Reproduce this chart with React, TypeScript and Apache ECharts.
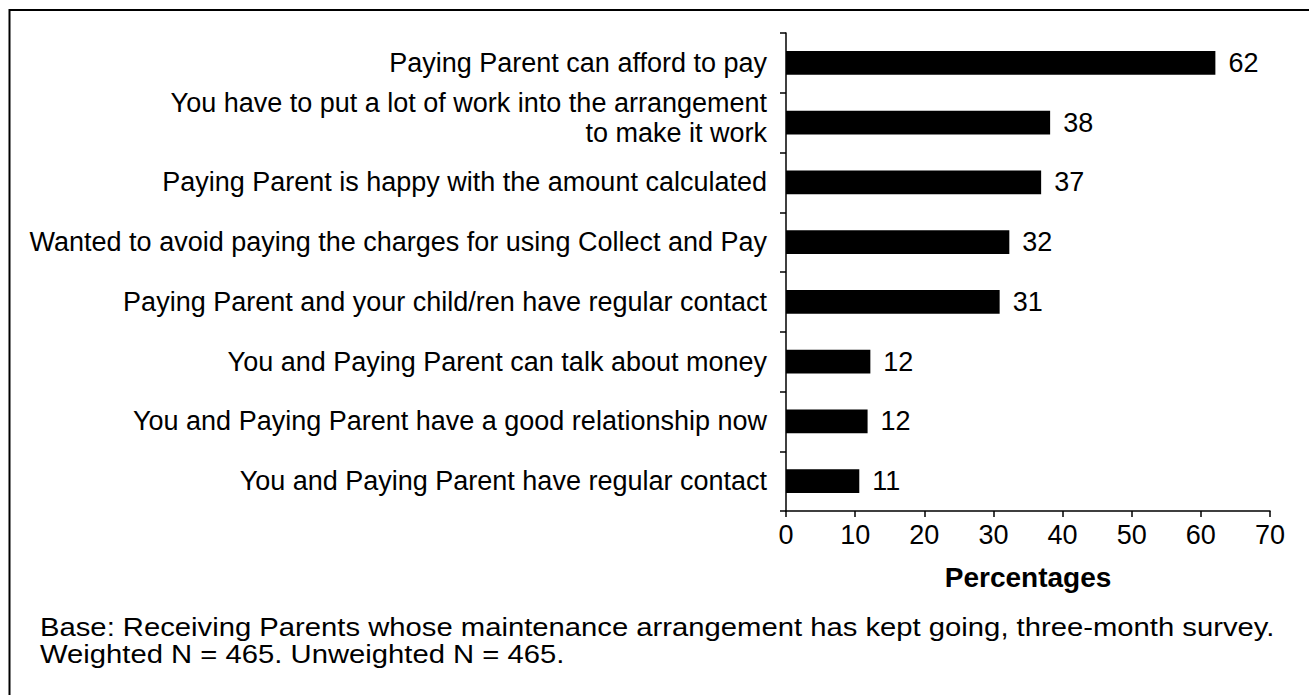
import React, { useEffect, useRef } from "react";
import * as echarts from "echarts";

const categories = [
  "Paying Parent can afford to pay",
  "You have to put a lot of work into the arrangement\nto make it work",
  "Paying Parent is happy with the amount calculated",
  "Wanted to avoid paying the charges for using Collect and Pay",
  "Paying Parent and your child/ren have regular contact",
  "You and Paying Parent can talk about money",
  "You and Paying Parent have a good relationship now",
  "You and Paying Parent have regular contact",
];
const values = [62.1, 38.2, 36.9, 32.3, 30.9, 12.2, 11.8, 10.6];
const xTicks = [0, 10, 20, 30, 40, 50, 60, 70];
const axisTitle = "Percentages";
const footnote =
  "Base: Receiving Parents whose maintenance arrangement has kept going, three-month survey.\nWeighted N = 465. Unweighted N = 465.";

const FONT = "'Liberation Sans', Arial, sans-serif";

export default function App() {
  const ref = useRef<HTMLDivElement>(null);
  useEffect(() => {
    if (!ref.current) return;
    const chart = echarts.init(ref.current, undefined, { renderer: "svg" });
    chart.setOption({
      animation: false,
      backgroundColor: "#ffffff",
      textStyle: { fontFamily: FONT, color: "#000" },
      grid: { left: 786, right: 39, top: 33, bottom: 184, containLabel: false },
      xAxis: {
        type: "value",
        min: xTicks[0],
        max: xTicks[xTicks.length - 1],
        interval: 10,
        axisLine: { show: true, lineStyle: { color: "#000", width: 1.5 } },
        axisTick: { show: true, length: 6, lineStyle: { color: "#000", width: 1.5 } },
        splitLine: { show: false },
        axisLabel: { fontSize: 27, color: "#000", margin: 10, fontFamily: FONT },
        name: axisTitle,
        nameLocation: "middle",
        nameGap: 52,
        nameTextStyle: { fontSize: 28, fontWeight: "bold", color: "#000", fontFamily: FONT },
      },
      yAxis: {
        type: "category",
        inverse: true,
        data: categories,
        axisLine: { show: true, lineStyle: { color: "#000", width: 1.5 } },
        axisTick: { show: true, length: 6, lineStyle: { color: "#000", width: 1.5 } },
        axisLabel: {
          fontSize: 27,
          color: "#000",
          margin: 19,
          align: "right",
          lineHeight: 29,
          fontFamily: FONT,
          formatter: (v: string) =>
            v.indexOf("\n") >= 0
              ? v
                  .split("\n")
                  .map((l) => `{t|${l}}`)
                  .join("\n") + "\n{s| }"
              : v,
          rich: {
            t: { fontSize: 27, lineHeight: 30, align: "right", fontFamily: FONT, color: "#000" },
            s: { fontSize: 4, lineHeight: 10, align: "right" },
          },
        },
      },
      series: [
        {
          type: "bar",
          data: values,
          barWidth: "40%",
          itemStyle: { color: "#000" },
          label: {
            show: true,
            position: "right",
            distance: 13,
            fontSize: 27,
            color: "#000",
            fontFamily: FONT,
            formatter: (p: any) => String(Math.round(p.value)),
          },
        },
      ],
      graphic: [
        {
          type: "rect",
          shape: { x: 9.5, y: 10, width: 1400, height: 800 },
          style: { fill: "none", stroke: "#000", lineWidth: 2 },
          silent: true,
        },
        {
          type: "text",
          x: 40,
          y: 614,
          scaleX: 1.125,
          style: {
            text: footnote,
            fontSize: 26,
            lineHeight: 27,
            fill: "#000",
            fontFamily: FONT,
            verticalAlign: "top",
            align: "left",
          },
        },
      ],
    });
    return () => chart.dispose();
  }, []);
  return (
    <div
      ref={ref}
      style={{ position: "absolute", left: 0, top: 0, width: 1309, height: 695 }}
    />
  );
}
